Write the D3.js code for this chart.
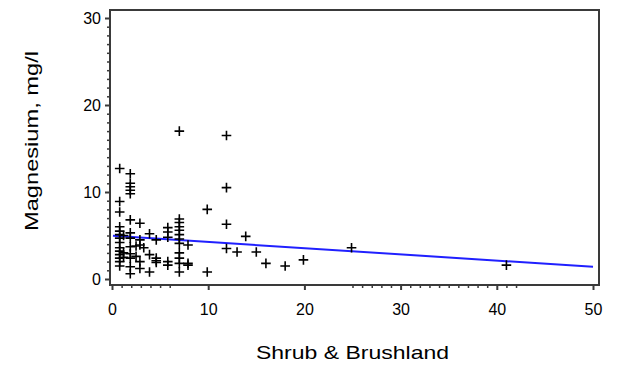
<!DOCTYPE html>
<html>
<head>
<meta charset="utf-8">
<script src="https://cdn.jsdelivr.net/npm/d3@7"></script>
<style>
  html, body { margin: 0; padding: 0; background: #fff; }
  svg { display: block; }
  text { font-family: "Liberation Sans", Arial, sans-serif; fill: #000; }
</style>
</head>
<body>
<svg id="chart" width="619" height="366"></svg>
<script>
// ---- data ----
const shrubX = [
  0.8,0.8,0.8,0.8,0.8,0.8,0.8,0.8,0.8,0.8,0.8,0.8,0.8,0.8,
  1.2,1.2,1.2,
  1.9,1.9,1.9,1.9,1.9,1.9,1.9,1.9,1.9,1.9,1.9,1.9,1.9,
  2.5,2.5,
  2.9,2.9,2.9,2.9,2.9,
  3.3,
  3.9,3.9,3.9,
  4.6,4.6,4.6,4.6,
  5.8,5.8,5.8,5.8,5.8,
  7.0,7.0,7.0,7.0,7.0,7.0,7.0,7.0,7.0,7.0,7.0,7.0,
  7.9,7.9,7.9,
  9.9,9.9,
  11.9,11.9,11.9,11.9,
  13.0,13.9,15.0,16.0,18.0,19.9,24.9,41.0
];
const magnesium = [
  12.7,8.9,7.7,6.0,5.5,5.1,4.7,4.2,3.6,3.2,2.8,2.4,2.0,1.5,
  5.0,3.0,2.5,
  12.1,11.0,10.6,10.2,9.8,6.8,5.3,4.7,3.7,2.9,2.4,1.4,0.6,
  3.8,2.6,
  6.4,4.5,3.9,2.0,1.2,
  3.6,
  5.2,2.8,0.8,
  4.5,2.4,2.1,1.9,
  5.9,5.4,4.8,2.0,1.6,
  17.0,6.9,6.5,6.0,5.6,5.1,4.6,4.1,3.0,2.4,1.8,0.8,
  3.9,1.8,1.6,
  8.0,0.8,
  16.5,10.5,6.3,3.5,
  3.1,4.9,3.1,1.8,1.5,2.2,3.6,1.6
];
// fitted regression line end points
const fitX = [0.1, 50];
const fitY = [4.96, 1.41];

const xTicks = [0, 10, 20, 30, 40, 50];
const yTicks = [0, 10, 20, 30];
const xMinor = [1,2,3,4,5,6,25,26,27,28,29,31,32,33,34,35,36,37,38,39,41,42];
const yMinor = [1,2,3,4,5,6,7,8,9,11,12,13,14,15,16,17,18,19,21,22,23,24,25,26,27,28,29];

const xTitle = "Shrub & Brushland";
const yTitle = "Magnesium, mg/l";

// ---- layout ----
const frame = { left: 110, right: 599, top: 10, bottom: 285 };
const svg = d3.select("#chart");

const x = d3.scaleLinear().domain([0, 50]).range([112, 593]);
const y = d3.scaleLinear().domain([0, 30]).range([279, 18]);

const axisColor = "#3a3a3a";

// frame
svg.append("rect")
  .attr("x", frame.left).attr("y", frame.top)
  .attr("width", frame.right - frame.left)
  .attr("height", frame.bottom - frame.top)
  .attr("fill", "none")
  .attr("stroke", axisColor)
  .attr("stroke-width", 2);

// x axis major ticks + labels
const xAxis = d3.axisBottom(x).tickValues(xTicks).tickSize(5).tickPadding(14)
  .tickFormat(d3.format("d"));
const gx = svg.append("g").attr("transform", `translate(0,${frame.bottom})`).call(xAxis);
gx.select(".domain").remove();
gx.selectAll("line").attr("stroke", axisColor).attr("stroke-width", 2);
gx.selectAll("text").attr("font-size", 16).attr("font-family", "Liberation Sans, Arial, sans-serif").attr("fill", "#000");

// x minor ticks
const gxm = svg.append("g").attr("transform", `translate(0,${frame.bottom})`)
  .call(d3.axisBottom(x).tickValues(xMinor).tickSize(3).tickFormat(""));
gxm.select(".domain").remove();
gxm.selectAll("line").attr("stroke", axisColor).attr("stroke-width", 1.5);

// y axis major ticks + labels
const yAxis = d3.axisLeft(y).tickValues(yTicks).tickSize(5).tickPadding(4)
  .tickFormat(d3.format("d"));
const gy = svg.append("g").attr("transform", `translate(${frame.left},0)`).call(yAxis);
gy.select(".domain").remove();
gy.selectAll("line").attr("stroke", axisColor).attr("stroke-width", 2);
gy.selectAll("text").attr("font-size", 16).attr("font-family", "Liberation Sans, Arial, sans-serif").attr("fill", "#000");

// y minor ticks
const gym = svg.append("g").attr("transform", `translate(${frame.left},0)`)
  .call(d3.axisLeft(y).tickValues(yMinor).tickSize(3).tickFormat(""));
gym.select(".domain").remove();
gym.selectAll("line").attr("stroke", axisColor).attr("stroke-width", 1.5);

// axis titles
svg.append("text")
  .attr("x", (frame.left + frame.right) / 2 - 2)
  .attr("y", 359)
  .attr("text-anchor", "middle")
  .attr("font-size", 19)
  .attr("textLength", 193)
  .attr("lengthAdjust", "spacingAndGlyphs")
  .text(xTitle);

svg.append("text")
  .attr("transform", "translate(38,141) rotate(-90)")
  .attr("text-anchor", "middle")
  .attr("font-size", 19)
  .attr("textLength", 180)
  .attr("lengthAdjust", "spacingAndGlyphs")
  .text(yTitle);

// regression line
const fitPts = fitX.map((d, i) => [d, fitY[i]]);
svg.append("path")
  .datum(fitPts)
  .attr("d", d3.line().x(d => x(d[0])).y(d => y(d[1])))
  .attr("fill", "none")
  .attr("stroke", "#2020ff")
  .attr("stroke-width", 2);

// scatter markers "+"
const pts = shrubX.map((d, i) => [d, magnesium[i]]);
const s = 4.8;
svg.append("g").selectAll("path").data(pts).enter().append("path")
  .attr("d", d => {
    const px = x(d[0]), py = y(d[1]);
    return `M${px - s},${py}H${px + s}M${px},${py - s}V${py + s}`;
  })
  .attr("stroke", "#000")
  .attr("stroke-width", 1.6)
  .attr("fill", "none");
</script>
</body>
</html>
